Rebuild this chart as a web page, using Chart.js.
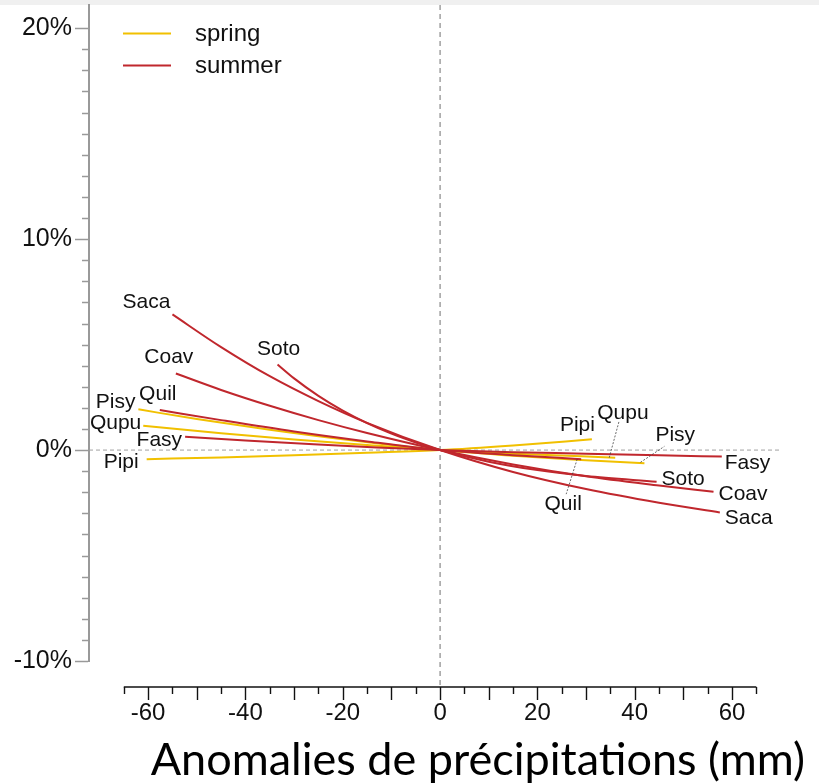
<!DOCTYPE html>
<html>
<head>
<meta charset="utf-8">
<script src="https://cdn.jsdelivr.net/npm/chart.js@4.4.1/dist/chart.umd.min.js"></script>
<style>
  html, body { margin: 0; padding: 0; background: #fff; }
  #wrap { position: relative; width: 819px; height: 783px; }
</style>
</head>
<body>
<div id="wrap"><canvas id="chart"></canvas></div>
<script>
// Réponse (%) selon l'anomalie de précipitations (mm), une courbe par espèce
const species = ['Saca', 'Soto', 'Coav', 'Quil', 'Fasy', 'Pisy', 'Qupu', 'Pipi']
const seasons = ['summer', 'summer', 'summer', 'summer', 'summer', 'spring', 'spring', 'spring']
const legendSeasons = ['spring', 'summer']

const sacaX = [-55, -45, -35, -25, -15, 0, 15, 30, 45, 57.5]
const sacaY = [6.43, 4.88, 3.5, 2.32, 1.29, 0, -1.04, -1.85, -2.5, -2.96]
const sotoX = [-33.4, -30, -25, -20, -15, -10, -5, 0, 10, 20, 30, 44.5]
const sotoY = [4.06, 3.4, 2.57, 1.87, 1.28, 0.78, 0.36, 0, -0.55, -0.95, -1.23, -1.5]
const coavX = [-54.3, -45, -35, -25, -15, 0, 15, 30, 45, 56.2]
const coavY = [3.63, 2.85, 2.1, 1.42, 0.81, 0, -0.68, -1.24, -1.68, -1.98]
const quilX = [-57.6, -45, -30, -15, 0, 15, 29]
const quilY = [1.9, 1.42, 0.88, 0.41, 0, -0.24, -0.43]
const fasyX = [-52.4, -40, -26, -13, 0, 15, 30, 45, 57.9]
const fasyY = [0.63, 0.45, 0.27, 0.125, 0, -0.1, -0.17, -0.25, -0.31]
const pisyX = [-62, -50, -35, -20, 0, 15, 30, 42]
const pisyY = [1.93, 1.47, 0.96, 0.51, 0, -0.27, -0.48, -0.63]
const qupuX = [-61, -45, -30, -15, 0, 15, 36]
const qupuY = [1.15, 0.8, 0.5, 0.24, 0, -0.17, -0.36]
const pipiX = [-60.3, -45, -30, -15, 0, 15, 31.2]
const pipiY = [-0.43, -0.35, -0.25, -0.13, 0, 0.22, 0.51]

const xTicks = [-60, -40, -20, 0, 20, 40, 60]
const yTicks = [-10, 0, 10, 20]

const curves = [[sacaX, sacaY], [sotoX, sotoY], [coavX, coavY], [quilX, quilY],
  [fasyX, fasyY], [pisyX, pisyY], [qupuX, qupuY], [pipiX, pipiY]]

const seasonColors = { spring: '#f1c000', summer: '#c0272d' }

// placement des étiquettes (pixels, par rapport aux extrémités des courbes)
const labelLayout = {
  Saca: [{ align: 'right', dx: -2, dy: -6 }, { align: 'left', dx: 5, dy: 11 }],
  Soto: [{ align: 'center', dx: 1, dy: -9 }, { align: 'left', dx: 5, dy: 3 }],
  Coav: [{ align: 'center', dx: -7, dy: -10 }, { align: 'left', dx: 5, dy: 8 }],
  Quil: [{ align: 'center', dx: -2, dy: -10 }, { align: 'center', dx: -18, dy: 51, lead: [-4, 0, -15, 35] }],
  Fasy: [{ align: 'right', dx: -3, dy: 9 }, { align: 'left', dx: 3, dy: 12 }],
  Pisy: [{ align: 'right', dx: -3, dy: -1 }, { align: 'left', dx: 11, dy: -22, lead: [-4, -1, 20, -17] }],
  Qupu: [{ align: 'right', dx: -2, dy: 3 }, { align: 'left', dx: -18, dy: -39, lead: [-6, 0, 4, -37] }],
  Pipi: [{ align: 'right', dx: -8, dy: 9 }, { align: 'left', dx: -32, dy: -8 }]
}

const labelFont = '21px "Liberation Sans", Arial, sans-serif'

const decor = {
  id: 'decor',
  beforeDraw(chart) {
    const ctx = chart.ctx
    ctx.save()
    ctx.fillStyle = '#f0f0f0'
    ctx.fillRect(0, 0, chart.width, 5)
    ctx.restore()
  },
  beforeDatasetsDraw(chart) {
    const { ctx, chartArea } = chart
    const x = chart.scales.x
    const y = chart.scales.y
    const y0 = y.getPixelForValue(0)
    const x0 = x.getPixelForValue(0)
    const axisY = chartArea.bottom + 26
    ctx.save()
    ctx.lineWidth = 1
    ctx.strokeStyle = '#a0a0a0'
    ctx.setLineDash([4, 3])
    ctx.beginPath()
    ctx.moveTo(chartArea.left, y0)
    ctx.lineTo(x.getPixelForValue(70.2), y0)
    ctx.stroke()
    ctx.strokeStyle = '#707070'
    ctx.setLineDash([5, 4])
    ctx.beginPath()
    ctx.moveTo(x0, chartArea.top)
    ctx.lineTo(x0, axisY)
    ctx.stroke()
    ctx.restore()
  },
  afterDraw(chart) {
    const { ctx, chartArea } = chart
    const x = chart.scales.x
    const y = chart.scales.y
    ctx.save()

    // petites graduations de l'axe des y
    ctx.strokeStyle = '#999'
    ctx.lineWidth = 1.5
    for (let v = -10; v <= 20; v++) {
      if (v % 10 === 0) continue
      const py = Math.round(y.getPixelForValue(v)) + 0.5
      ctx.beginPath()
      ctx.moveTo(chartArea.left - 7, py)
      ctx.lineTo(chartArea.left, py)
      ctx.stroke()
    }

    // axe des x détaché
    const axisY = chartArea.bottom + 26
    ctx.strokeStyle = '#111'
    ctx.lineWidth = 1.4
    ctx.beginPath()
    ctx.moveTo(x.getPixelForValue(-65), axisY)
    ctx.lineTo(x.getPixelForValue(65), axisY)
    ctx.stroke()
    for (let v = -65; v <= 65; v += 5) {
      const px = Math.round(x.getPixelForValue(v)) + 0.5
      ctx.beginPath()
      ctx.moveTo(px, axisY)
      ctx.lineTo(px, axisY + (v % 10 === 0 ? 13 : 7))
      ctx.stroke()
    }

    // étiquettes des courbes
    ctx.font = labelFont
    ctx.fillStyle = '#111'
    ctx.textBaseline = 'alphabetic'
    species.forEach((name, i) => {
      const pts = chart.getDatasetMeta(i).data
      const ends = [pts[0], pts[pts.length - 1]]
      labelLayout[name].forEach((lay, k) => {
        const p = ends[k]
        if (lay.lead) {
          ctx.save()
          ctx.strokeStyle = '#444'
          ctx.lineWidth = 0.8
          ctx.setLineDash([2, 1.5])
          ctx.beginPath()
          ctx.moveTo(p.x + lay.lead[0], p.y + lay.lead[1])
          ctx.lineTo(p.x + lay.lead[2], p.y + lay.lead[3])
          ctx.stroke()
          ctx.restore()
        }
        ctx.textAlign = lay.align
        ctx.fillText(name, p.x + lay.dx, p.y + lay.dy)
      })
    })

    // légende
    ctx.font = '24px "Liberation Sans", Arial, sans-serif'
    ctx.textAlign = 'left'
    legendSeasons.forEach((s, i) => {
      const ly = 33.5 + i * 32
      ctx.strokeStyle = seasonColors[s]
      ctx.lineWidth = 2
      ctx.beginPath()
      ctx.moveTo(123, ly)
      ctx.lineTo(171, ly)
      ctx.stroke()
      ctx.fillStyle = '#111'
      ctx.fillText(s, 195, ly + 7.5)
    })
    ctx.restore()
  }
}

new Chart(document.getElementById('chart'), {
  type: 'line',
  data: {
    datasets: species.map((name, i) => ({
      label: name,
      data: curves[i][0].map((v, j) => ({ x: v, y: curves[i][1][j] })),
      borderColor: seasonColors[seasons[i]],
      borderWidth: 2,
      pointRadius: 0,
      fill: false,
      cubicInterpolationMode: 'monotone'
    }))
  },
  options: {
    responsive: true,
    maintainAspectRatio: false,
    animation: false,
    devicePixelRatio: 1,
    layout: { padding: { top: 5, right: 14, bottom: 0, left: 0 } },
    plugins: {
      legend: { display: false },
      tooltip: { enabled: false }
    },
    scales: {
      x: {
        type: 'linear',
        min: -72.15,
        max: 75,
        afterBuildTicks: (s) => { s.ticks = xTicks.map(v => ({ value: v })) },
        afterFit: (s) => { s.height = 122; s.paddingLeft = 0; s.paddingRight = 0 },
        grid: { display: false, drawTicks: false },
        border: { display: false },
        ticks: {
          autoSkip: false,
          maxRotation: 0,
          padding: 38,
          color: '#111',
          font: { family: '"Liberation Sans", Arial, sans-serif', size: 24 }
        },
        title: {
          display: true,
          text: 'Anomalies de précipitations (mm)',
          align: 'end',
          color: '#000',
          padding: { top: 0, bottom: 0 },
          font: { family: 'Lato, "Open Sans", sans-serif', size: 45, lineHeight: 1.0 }
        }
      },
      y: {
        min: -10,
        max: 21.1,
        afterBuildTicks: (s) => { s.ticks = yTicks.map(v => ({ value: v })) },
        afterFit: (s) => { s.width = 89; s.paddingTop = 0; s.paddingBottom = 0 },
        grid: { drawOnChartArea: false, tickLength: 14, tickColor: '#999', tickWidth: 1.5 },
        border: { color: '#999', width: 2 },
        ticks: {
          padding: 3,
          color: '#111',
          font: { family: '"Liberation Sans", Arial, sans-serif', size: 25 },
          callback: (v) => v + '%'
        }
      }
    }
  },
  plugins: [decor]
})
</script>
</body>
</html>
